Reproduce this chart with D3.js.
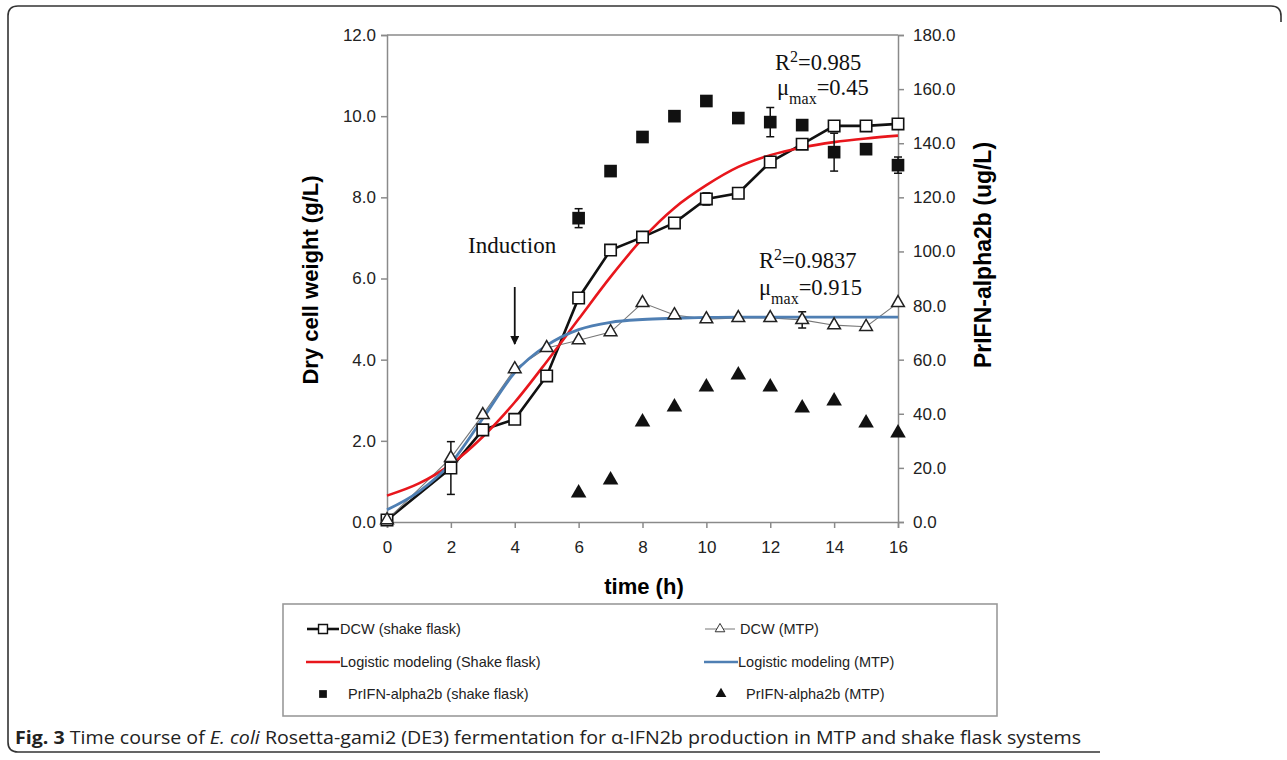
<!DOCTYPE html>
<html>
<head>
<meta charset="utf-8">
<script src="https://cdn.jsdelivr.net/npm/d3@7"></script>
<style>
  body { margin: 0; background: #fff; }
  svg text { font-family: "Liberation Sans", Arial, sans-serif; }
</style>
</head>
<body>
<div id="chart"></div>
<script>
// 1: DATA
const dcwTimes = [0, 2, 3, 4, 5, 6, 7, 8, 9, 10, 11, 12, 13, 14, 15, 16];
const dcwFlask = [0.05, 1.33, 2.27, 2.53, 3.6, 5.52, 6.7, 7.02, 7.37, 7.96, 8.1, 8.87, 9.31, 9.76, 9.76, 9.81];
const dcwFlaskErr = [0, 0.65, 0, 0, 0, 0.12, 0.12, 0, 0, 0.15, 0, 0, 0, 0, 0, 0];
const dcwMtp = [0.05, 1.58, 2.64, 3.77, 4.29, 4.48, 4.68, 5.4, 5.1, 5.0, 5.03, 5.03, 4.98, 4.85, 4.81, 5.4];
const dcwMtpErr = [0, 0, 0, 0, 0, 0, 0, 0, 0, 0, 0, 0, 0.2, 0, 0, 0];

const modelTimes = [0, 1, 2, 3, 4, 5, 6, 7, 8, 9, 10, 11, 12, 13, 14, 15, 16];
const modelFlask = [0.65, 0.95, 1.42, 2.1, 2.95, 3.95, 5.0, 6.04, 6.98, 7.74, 8.3, 8.75, 9.04, 9.23, 9.36, 9.45, 9.52];
const modelMtp = [0.3, 0.75, 1.45, 2.55, 3.68, 4.35, 4.74, 4.92, 4.99, 5.02, 5.04, 5.05, 5.05, 5.05, 5.05, 5.05, 5.05];

const ifnTimes = [6, 7, 8, 9, 10, 11, 12, 13, 14, 15, 16];
const ifnFlask = [112.3, 129.7, 142.3, 150.0, 155.6, 149.3, 147.8, 146.7, 136.7, 137.8, 131.9];
const ifnFlaskErr = [3.5, 0, 0, 0, 0, 0, 5.4, 0, 7, 0, 3];
const ifnMtp = [10.7, 15.5, 37.0, 42.5, 49.9, 54.3, 49.9, 42.1, 44.7, 36.6, 32.9];

const xTicks = [0, 2, 4, 6, 8, 10, 12, 14, 16];
const yLeftTicks = [0, 2, 4, 6, 8, 10, 12];
const yRightTicks = [0, 20, 40, 60, 80, 100, 120, 140, 160, 180];

const legendItems = [
  "DCW (shake flask)", "DCW (MTP)",
  "Logistic modeling (Shake flask)", "Logistic modeling (MTP)",
  "PrIFN-alpha2b (shake flask)", "PrIFN-alpha2b (MTP)"
];

// 2: SVG + SCALES
const W = 1287, H = 760;
const svg = d3.select("#chart").append("svg")
  .attr("width", W).attr("height", H);

const plot = { left: 387, right: 898, top: 35, bottom: 522 };

const x = d3.scaleLinear().domain([0, 16]).range([plot.left, plot.right]);
const yL = d3.scaleLinear().domain([0, 12]).range([plot.bottom, plot.top]);
const yR = d3.scaleLinear().domain([0, 180]).range([plot.bottom, plot.top]);

// outer frame
svg.append("path")
  .attr("d", "M1281,22 L1281,16 Q1281,6 1271,6 L18,6 Q8,6 8,16 L8,742 Q8,752 18,752 L1100,752")
  .attr("fill", "none").attr("stroke", "#333").attr("stroke-width", 1.6);

// 3: AXES
const axisColor = "#8a8a8a";
function styleAxis(g) {
  g.selectAll("path, line").attr("stroke", axisColor).attr("stroke-width", 1.5);
  g.selectAll("text").attr("fill", "#222").style("font-size", "17px");
}

svg.append("g")
  .attr("transform", `translate(0,${plot.bottom})`)
  .call(d3.axisBottom(x).tickValues(xTicks).tickSizeOuter(0).tickSize(6).tickPadding(13))
  .call(styleAxis);

svg.append("g")
  .attr("transform", `translate(${plot.left},0)`)
  .call(d3.axisLeft(yL).tickValues(yLeftTicks).tickFormat(d3.format(".1f")).tickSizeOuter(0).tickSize(6).tickPadding(5))
  .call(styleAxis);

svg.append("g")
  .attr("transform", `translate(${plot.right},0)`)
  .call(d3.axisRight(yR).tickValues(yRightTicks).tickFormat(d3.format(".1f")).tickSizeOuter(0).tickSize(6).tickPadding(9))
  .call(styleAxis);

// top border
svg.append("line")
  .attr("x1", plot.left).attr("x2", plot.right)
  .attr("y1", plot.top).attr("y2", plot.top)
  .attr("stroke", axisColor).attr("stroke-width", 1.5);

// axis labels
svg.append("text")
  .attr("transform", `translate(318,280) rotate(-90)`)
  .attr("text-anchor", "middle")
  .style("font-size", "22px").style("font-weight", "bold")
  .text("Dry cell weight (g/L)");

svg.append("text")
  .attr("transform", `translate(991,255) rotate(-90)`)
  .attr("text-anchor", "middle")
  .style("font-size", "23px").style("font-weight", "bold")
  .text("PrIFN-alpha2b (ug/L)");

svg.append("text")
  .attr("x", 644).attr("y", 594)
  .attr("text-anchor", "middle")
  .style("font-size", "22px").style("font-weight", "bold")
  .text("time (h)");

// 4: LINES
const lineL = d3.line().x(d => x(d[0])).y(d => yL(d[1]));
const smoothL = d3.line().x(d => x(d[0])).y(d => yL(d[1])).curve(d3.curveMonotoneX);

svg.append("path")
  .datum(d3.zip(dcwTimes, dcwFlask))
  .attr("d", lineL)
  .attr("fill", "none").attr("stroke", "#111").attr("stroke-width", 2.6);

svg.append("path")
  .datum(d3.zip(dcwTimes, dcwMtp))
  .attr("d", lineL)
  .attr("fill", "none").attr("stroke", "#777").attr("stroke-width", 1.1);

svg.append("path")
  .datum(d3.zip(modelTimes, modelFlask))
  .attr("d", smoothL)
  .attr("fill", "none").attr("stroke", "#e8161c").attr("stroke-width", 2.6);

svg.append("path")
  .datum(d3.zip(modelTimes, modelMtp))
  .attr("d", smoothL)
  .attr("fill", "none").attr("stroke", "#4f7fb3").attr("stroke-width", 2.8);

// 5: ERROR BARS
function errorBars(times, vals, errs, yScale) {
  const data = d3.zip(times, vals, errs).filter(d => d[2] > 0);
  const g = svg.append("g").attr("stroke", "#111").attr("stroke-width", 1.5);
  data.forEach(([t, v, e]) => {
    g.append("line").attr("x1", x(t)).attr("x2", x(t)).attr("y1", yScale(v - e)).attr("y2", yScale(v + e));
    g.append("line").attr("x1", x(t) - 4).attr("x2", x(t) + 4).attr("y1", yScale(v - e)).attr("y2", yScale(v - e));
    g.append("line").attr("x1", x(t) - 4).attr("x2", x(t) + 4).attr("y1", yScale(v + e)).attr("y2", yScale(v + e));
  });
}
errorBars(dcwTimes, dcwFlask, dcwFlaskErr, yL);
errorBars(dcwTimes, dcwMtp, dcwMtpErr, yL);
errorBars(ifnTimes, ifnFlask, ifnFlaskErr, yR);

// 6: MARKERS
const sqOpen = d3.symbol().type(d3.symbolSquare).size(130);
const triOpen = d3.symbol().type(d3.symbolTriangle).size(70);
const sqFill = d3.symbol().type(d3.symbolSquare).size(160);
const triFill = d3.symbol().type(d3.symbolTriangle).size(105);

svg.append("g").selectAll("path")
  .data(d3.zip(dcwTimes, dcwFlask))
  .join("path")
  .attr("transform", d => `translate(${x(d[0])},${yL(d[1])})`)
  .attr("d", sqOpen)
  .attr("fill", "#fff").attr("stroke", "#111").attr("stroke-width", 1.6);

svg.append("g").selectAll("path")
  .data(d3.zip(dcwTimes, dcwMtp))
  .join("path")
  .attr("transform", d => `translate(${x(d[0])},${yL(d[1])})`)
  .attr("d", triOpen)
  .attr("fill", "#fff").attr("stroke", "#222").attr("stroke-width", 1.5);

svg.append("g").selectAll("path")
  .data(d3.zip(ifnTimes, ifnFlask))
  .join("path")
  .attr("transform", d => `translate(${x(d[0])},${yR(d[1])})`)
  .attr("d", sqFill)
  .attr("fill", "#111");

svg.append("g").selectAll("path")
  .data(d3.zip(ifnTimes, ifnMtp))
  .join("path")
  .attr("transform", d => `translate(${x(d[0])},${yR(d[1])})`)
  .attr("d", triFill)
  .attr("fill", "#111");

// 7: ANNOTATIONS
const serif = "'Liberation Serif', 'Times New Roman', serif";
function annot(xp, yp, parts) {
  const t = svg.append("text").attr("x", xp).attr("y", yp)
    .style("font-family", serif).style("font-size", "22.5px").attr("fill", "#111");
  parts.forEach(([s, shift]) => {
    const ts = t.append("tspan").text(s);
    if (shift) ts.attr("baseline-shift", shift).style("font-size", "16px");
  });
}
annot(775, 70, [["R"], ["2", "super"], ["=0.985"]]);
annot(777, 95, [["\u03bc"], ["max", "sub"], ["=0.45"]]);
annot(759, 268, [["R"], ["2", "super"], ["=0.9837"]]);
annot(759, 295, [["\u03bc"], ["max", "sub"], ["=0.915"]]);

svg.append("text")
  .attr("x", 468).attr("y", 253)
  .style("font-family", serif).style("font-size", "23px").attr("fill", "#111")
  .text("Induction");

svg.append("defs").append("marker")
  .attr("id", "arrow").attr("viewBox", "0 0 10 10")
  .attr("refX", 9).attr("refY", 5)
  .attr("markerWidth", 5).attr("markerHeight", 5)
  .attr("orient", "auto")
  .append("path").attr("d", "M0,0 L10,5 L0,10 Z").attr("fill", "#111");

svg.append("line")
  .attr("x1", x(4)).attr("x2", x(4))
  .attr("y1", 287).attr("y2", 344)
  .attr("stroke", "#111").attr("stroke-width", 1.8)
  .attr("marker-end", "url(#arrow)");

// 8: LEGEND
svg.append("rect")
  .attr("x", 283).attr("y", 604).attr("width", 714).attr("height", 112)
  .attr("fill", "none").attr("stroke", "#9a9a9a").attr("stroke-width", 1.6);

const rowsY = [629, 662, 694];
const colX = [307, 705];
legendItems.forEach((label, i) => {
  const row = Math.floor(i / 2), col = i % 2;
  const lx = colX[col], ly = rowsY[row];
  const g = svg.append("g");
  let textX = lx + 33;
  if (row === 0 && col === 0) {
    g.append("line").attr("x1", lx).attr("x2", lx + 32).attr("y1", ly).attr("y2", ly)
      .attr("stroke", "#111").attr("stroke-width", 2.6);
    g.append("path").attr("transform", `translate(${lx + 16},${ly})`)
      .attr("d", d3.symbol().type(d3.symbolSquare).size(80))
      .attr("fill", "#fff").attr("stroke", "#111").attr("stroke-width", 1.4);
  } else if (row === 0 && col === 1) {
    g.append("line").attr("x1", lx).attr("x2", lx + 30).attr("y1", ly).attr("y2", ly)
      .attr("stroke", "#777").attr("stroke-width", 1);
    g.append("path").attr("transform", `translate(${lx + 15},${ly})`)
      .attr("d", d3.symbol().type(d3.symbolTriangle).size(40))
      .attr("fill", "#fff").attr("stroke", "#333").attr("stroke-width", 1);
    textX = lx + 35;
  } else if (row === 1) {
    g.append("line").attr("x1", lx - 1).attr("x2", lx + 33).attr("y1", ly).attr("y2", ly)
      .attr("stroke", col === 0 ? "#e8161c" : "#4f7fb3").attr("stroke-width", 2.6);
    textX = lx + 33;
  } else {
    g.append("path").attr("transform", `translate(${lx + 16},${ly})`)
      .attr("d", d3.symbol().type(col === 0 ? d3.symbolSquare : d3.symbolTriangle).size(col === 0 ? 60 : 50))
      .attr("fill", "#111");
    textX = lx + 41;
  }
  g.append("text").attr("x", textX).attr("y", ly + 5)
    .style("font-size", "14.5px").attr("fill", "#222")
    .text(label);
});

// 9: CAPTION
const cap = svg.append("text").attr("x", 15).attr("y", 744)
  .attr("textLength", 1066).attr("lengthAdjust", "spacingAndGlyphs")
  .style("font-family", "'Open Sans', sans-serif").style("font-size", "18px").attr("fill", "#222");
cap.append("tspan").style("font-weight", "bold").text("Fig. 3");
cap.append("tspan").text(" Time course of ");
cap.append("tspan").style("font-style", "italic").text("E. coli");
cap.append("tspan").text(" Rosetta-gami2 (DE3) fermentation for \u03b1-IFN2b production in MTP and shake flask systems");
</script>
</body>
</html>
